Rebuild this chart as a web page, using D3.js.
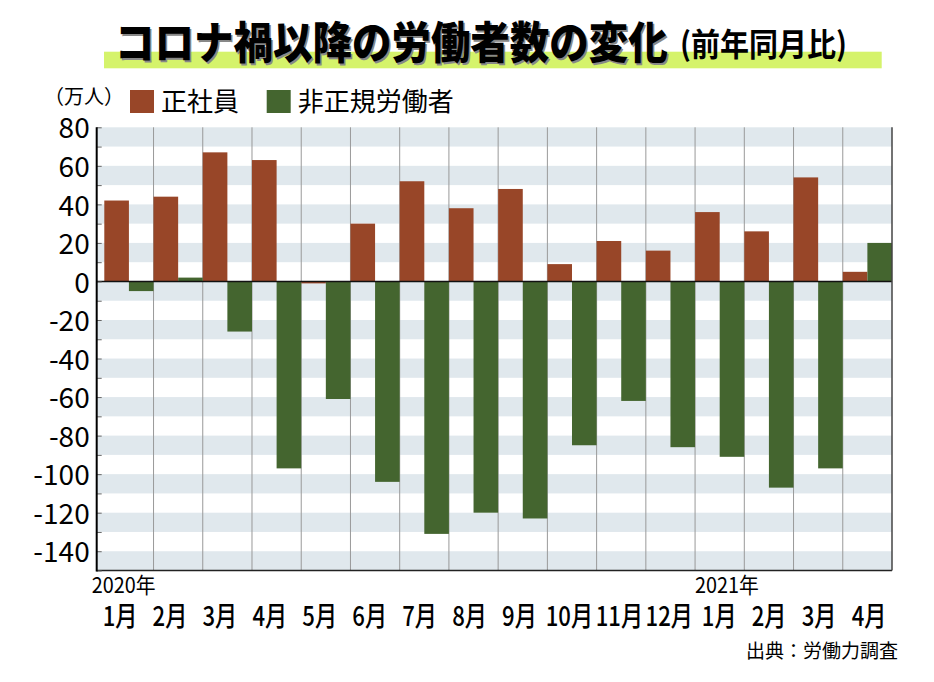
<!DOCTYPE html>
<html>
<head>
<meta charset="utf-8">
<script src="https://cdn.jsdelivr.net/npm/d3@7"></script>
<style>
  body { margin: 0; background: #fff; }
  svg { display: block; }
  text { font-family: 'Noto Sans CJK JP', 'Noto Sans', sans-serif; }
</style>
</head>
<body>
<div id="chart"></div>
<script>
// 労働力調査：前年同月比（万人）
let monthKeys = ['2020-1','2020-2','2020-3','2020-4','2020-5','2020-6','2020-7','2020-8',
  '2020-9','2020-10','2020-11','2020-12','2021-1','2021-2','2021-3','2021-4'];
let monthLabels = ['1月','2月','3月','4月','5月','6月','7月','8月',
  '9月','10月','11月','12月','1月','2月','3月','4月'];
let yearLabels = [{key: '2020-1', text: '2020年'}, {key: '2021-1', text: '2021年'}];

// 正社員
let regularValues = [42, 44, 67, 63, -1, 30, 52, 38, 48, 9, 21, 16, 36, 26, 54, 5];
// 非正規労働者
let nonRegularValues = [-5, 2, -26, -97, -61, -104, -131, -120, -123, -85, -62, -86, -91, -107, -97, 20];

let seriesNames = ['正社員', '非正規労働者'];
let yTicks = [80, 60, 40, 20, 0, -20, -40, -60, -80, -100, -120, -140];

let svgWidth = 934;
let svgHeight = 682;

let plotLeft = 96.7;
let plotRight = 892;
let plotTop = 127.3;
let plotBottom = 570.5;

let colorRegular = '#984628';
let colorNonRegular = '#44652f';

let svg = d3.select('#chart')
  .append('svg')
  .attr('width', svgWidth)
  .attr('height', svgHeight);

// Scales
let xScale = d3.scaleBand()
  .domain(monthKeys)
  .range([104.3, plotRight])
  .padding(0);

let yScale = d3.scaleLinear()
  .domain([-150, 80])
  .range([plotBottom, plotTop]);

// Label positions drift slightly from band centres in the original
let labelScale = d3.scalePoint()
  .domain(monthKeys)
  .range([120, 869]);

// Background stripes (every other 10-unit band)
svg.append('g')
  .selectAll('rect')
  .data(d3.range(-150, 80, 20))
  .enter()
  .append('rect')
  .attr('x', plotLeft)
  .attr('width', plotRight - plotLeft)
  .attr('y', d => yScale(d + 10))
  .attr('height', d => yScale(d) - yScale(d + 10))
  .attr('fill', '#e0e8ed');

// Vertical grid lines at month boundaries
svg.append('g')
  .selectAll('line')
  .data(monthKeys.slice(1))
  .enter()
  .append('line')
  .attr('x1', d => xScale(d))
  .attr('x2', d => xScale(d))
  .attr('y1', plotTop)
  .attr('y2', plotBottom)
  .attr('stroke', '#999')
  .attr('stroke-width', 1);

// Bars
let bw = xScale.bandwidth() / 2;

svg.append('g')
  .selectAll('rect')
  .data(monthKeys)
  .enter()
  .append('rect')
  .attr('x', d => xScale(d))
  .attr('width', bw)
  .attr('y', (d, i) => yScale(Math.max(0, regularValues[i])))
  .attr('height', (d, i) => Math.abs(yScale(regularValues[i]) - yScale(0)))
  .attr('fill', colorRegular);

svg.append('g')
  .selectAll('rect')
  .data(monthKeys)
  .enter()
  .append('rect')
  .attr('x', d => xScale(d) + bw)
  .attr('width', bw)
  .attr('y', (d, i) => yScale(Math.max(0, nonRegularValues[i])))
  .attr('height', (d, i) => Math.abs(yScale(nonRegularValues[i]) - yScale(0)))
  .attr('fill', colorNonRegular);

// Zero line
svg.append('line')
  .attr('x1', plotLeft)
  .attr('x2', plotRight)
  .attr('y1', yScale(0))
  .attr('y2', yScale(0))
  .attr('stroke', '#111')
  .attr('stroke-width', 1.5);

// Frame: bottom and right
svg.append('line')
  .attr('x1', plotLeft)
  .attr('x2', plotRight)
  .attr('y1', plotBottom)
  .attr('y2', plotBottom)
  .attr('stroke', '#222')
  .attr('stroke-width', 1.5);

svg.append('line')
  .attr('x1', plotRight)
  .attr('x2', plotRight)
  .attr('y1', plotTop)
  .attr('y2', plotBottom)
  .attr('stroke', '#444')
  .attr('stroke-width', 1.5);

// Y axis: minor inward ticks every 10
let yMinor = svg.append('g')
  .attr('transform', `translate(${plotLeft},0)`)
  .call(d3.axisLeft(yScale).tickValues(d3.range(-150, 81, 10)).tickSize(-5).tickFormat(''));
yMinor.select('.domain').remove();
yMinor.selectAll('.tick line').attr('stroke', '#666');

// Y axis labels every 20 (plain hyphen minus like the original)
let yAxis = svg.append('g')
  .attr('transform', `translate(${plotLeft},0)`)
  .call(d3.axisLeft(yScale).tickValues(yTicks).tickSize(0).tickPadding(7).tickFormat(d => String(d)));
yAxis.select('.domain').remove();
yAxis.selectAll('.tick text')
  .attr('font-family', "'Noto Sans', sans-serif")
  .attr('font-size', '28px')
  .attr('fill', '#000')
  .attr('dy', '0.38em');

svg.append('line')
  .attr('x1', plotLeft)
  .attr('x2', plotLeft)
  .attr('y1', plotTop)
  .attr('y2', plotBottom + 1)
  .attr('stroke', '#000')
  .attr('stroke-width', 2);

// Month labels
svg.append('g')
  .selectAll('text')
  .data(monthKeys)
  .enter()
  .append('text')
  .attr('transform', d => `translate(${labelScale(d)},626) scale(0.82,1)`)
  .attr('text-anchor', 'middle')
  .attr('font-size', '27px')
  .attr('font-weight', 500)
  .attr('fill', '#000')
  .text((d, i) => monthLabels[i]);

// Year labels
svg.append('g')
  .selectAll('text')
  .data(yearLabels)
  .enter()
  .append('text')
  .attr('transform', d => `translate(${xScale(d.key) + (d.key === '2020-1' ? -12.5 : 0)},593) scale(0.9,1)`)
  .attr('font-size', '22px')
  .attr('fill', '#000')
  .text(d => d.text);

// Title
svg.append('rect')
  .attr('x', 104)
  .attr('y', 51.7)
  .attr('width', 777.7)
  .attr('height', 16.6)
  .attr('fill', '#d5f36b');

let titleMain = 'コロナ禍以降の労働者数の変化';
let titleSub = '(前年同月比)';

svg.append('text')
  .attr('transform', 'translate(116.5,60.5) scale(1,1.12)')
  .attr('font-size', '39.5px')
  .attr('font-weight', 900)
  .attr('fill', '#888')
  .text(titleMain);

svg.append('text')
  .attr('transform', 'translate(115,59) scale(1,1.12)')
  .attr('font-size', '39.5px')
  .attr('font-weight', 900)
  .attr('fill', '#000')
  .text(titleMain);

svg.append('text')
  .attr('transform', 'translate(680,56) scale(1,1.1)')
  .attr('font-size', '29px')
  .attr('font-weight', 700)
  .attr('fill', '#000')
  .text(titleSub);

// Legend
svg.append('text')
  .attr('x', 44)
  .attr('y', 104)
  .attr('font-size', '20px')
  .attr('fill', '#000')
  .text('（万人）');

let legend = svg.append('g')
  .selectAll('g')
  .data(seriesNames)
  .enter()
  .append('g')
  .attr('transform', (d, i) => `translate(${i === 0 ? 130 : 266.7},90)`);

legend.append('rect')
  .attr('width', 24)
  .attr('height', 23)
  .attr('fill', (d, i) => i === 0 ? colorRegular : colorNonRegular);

legend.append('text')
  .attr('x', 31)
  .attr('y', 21)
  .attr('font-size', '26px')
  .attr('fill', '#000')
  .text(d => d);

// Source
svg.append('text')
  .attr('x', 898)
  .attr('y', 658)
  .attr('text-anchor', 'end')
  .attr('font-size', '19px')
  .attr('fill', '#000')
  .text('出典：労働力調査');
</script>
</body>
</html>
